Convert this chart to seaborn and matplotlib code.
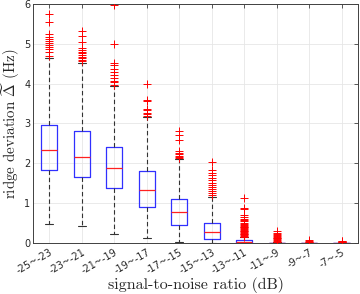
import numpy as np
import pandas as pd
import seaborn as sns
import matplotlib.pyplot as plt

# SNR bins
snr_bins = ['-25~-23', '-23~-21', '-21~-19', '-19~-17', '-17~-15',
            '-15~-13', '-13~-11', '-11~-9', '-9~-7', '-7~-5']

# box statistics
q1 = [1.82, 1.65, 1.37, 0.91, 0.45, 0.09, 0.00, 0.00, 0.00, 0.00]
med = [2.33, 2.17, 1.87, 1.32, 0.77, 0.28, 0.02, 0.00, 0.00, 0.00]
q3 = [2.97, 2.80, 2.41, 1.81, 1.11, 0.51, 0.07, 0.005, 0.003, 0.002]
whis_lo = [0.48, 0.42, 0.22, 0.13, 0.03, 0.00, 0.00, 0.00, 0.00, 0.00]
whis_hi = [4.64, 4.52, 3.93, 3.16, 2.11, 1.14, 0.14, 0.01, 0.005, 0.004]

outliers = [
    [4.70, 4.80, 4.88, 4.93, 4.98, 5.03, 5.08, 5.13, 5.18, 5.24, 5.55, 5.75],
    [4.56, 4.60, 4.64, 4.68, 4.72, 4.76, 4.80, 4.85, 4.90, 5.05, 5.20, 5.32],
    [3.97, 4.03, 4.08, 4.15, 4.22, 4.30, 4.38, 4.46, 4.53, 5.00, 5.98],
    [3.19, 3.23, 3.27, 3.33, 3.37, 3.56, 3.60, 4.00],
    [2.13, 2.16, 2.19, 2.23, 2.27, 2.31, 2.58, 2.70, 2.80],
    [1.20, 1.25, 1.30, 1.35, 1.40, 1.45, 1.50, 1.58, 1.63, 1.70, 1.76, 1.84, 2.02],
    [0.15, 0.17, 0.19, 0.21, 0.23, 0.25, 0.27, 0.29, 0.31, 0.33, 0.35, 0.37,
     0.39, 0.41, 0.43, 0.45, 0.48, 0.51, 0.54, 0.57, 0.60, 0.64, 0.70, 0.86,
     0.88, 1.13],
    [0.03, 0.05, 0.07, 0.09, 0.11, 0.13, 0.15, 0.17, 0.19, 0.21, 0.24, 0.30],
    [0.01, 0.02, 0.04, 0.07],
    [0.01, 0.02, 0.03, 0.04, 0.05],
]

sns.set_style("whitegrid")
plt.rcParams['font.family'] = ['DejaVu Sans']
plt.rcParams['mathtext.fontset'] = 'cm'
plt.rcParams['axes.unicode_minus'] = False

fig = plt.figure(figsize=(3.6, 2.94), dpi=100)
ax = fig.add_axes([0.092, 0.174, 0.902, 0.812])

pos = np.arange(1, len(snr_bins) + 1)
stats = []
for i in range(len(snr_bins)):
    stats.append(dict(q1=q1[i], med=med[i], q3=q3[i],
                      whislo=whis_lo[i], whishi=whis_hi[i], fliers=[]))

ax.bxp(stats, positions=pos, widths=0.5, showfliers=False,
       boxprops=dict(color='#3030ff', linewidth=0.9),
       medianprops=dict(color='#ff2020', linewidth=0.9),
       whiskerprops=dict(color='#333333', linewidth=0.8, linestyle=(0, (4, 2.5))),
       capprops=dict(color='#333333', linewidth=0.8),
       capwidths=0.25)

out_df = pd.DataFrame({
    'x': np.concatenate([[pos[i]] * len(o) for i, o in enumerate(outliers)]),
    'y': np.concatenate(outliers),
})
sns.scatterplot(data=out_df, x='x', y='y', marker='+', color='red',
                s=26, linewidth=0.7, ax=ax, zorder=3, legend=False)

ax.set_xlim(0.5, 10.5)
ax.set_ylim(0, 6)
ax.set_xticks(pos)
ax.set_xticklabels(snr_bins, rotation=30, ha='right', rotation_mode='anchor',
                   fontsize=7, color='#262626')
ax.set_yticks(range(0, 7))
ax.tick_params(axis='y', labelsize=7, colors='#262626')
ax.tick_params(direction='in', length=3, width=0.6, top=True, right=True,
               color='#404040', pad=2)
ax.tick_params(axis='x', pad=3)
ax.grid(True, color='#e6e6e6', linewidth=0.6)
for sp in ax.spines.values():
    sp.set_color('#404040')
    sp.set_linewidth(0.7)

ax.set_xlabel('signal-to-noise ratio (dB)', fontfamily='cmr10', fontsize=11.5,
              labelpad=1)
ax.set_ylabel(r'ridge deviation $\widetilde{\Delta}$ (Hz)', fontfamily='cmr10',
              fontsize=10.8)
ax.yaxis.set_label_coords(-0.034, 0.5)

fig.savefig('out.png', dpi=100)
